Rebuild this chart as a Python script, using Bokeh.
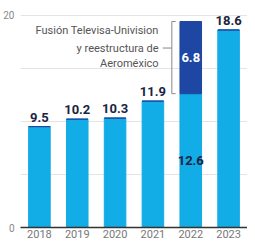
from bokeh.plotting import figure
from bokeh.models import ColumnDataSource, FixedTicker, Range1d, FactorRange
from bokeh.transform import dodge
from bokeh.core.properties import value
from bokeh.embed import file_html
from bokeh.resources import INLINE

years = ["2018", "2019", "2020", "2021", "2022", "2023"]
base_values = [9.5, 10.2, 10.3, 11.9, 12.6, 18.6]
extra_values = [0, 0, 0, 0, 6.8, 0]
top_labels = ["9.5", "10.2", "10.3", "11.9", "", "18.6"]
y_ticks = [0, 20]
grid_ticks = [5, 10, 15, 20]
note_lines = ["Fusión Televisa-Univision", "y reestructura de", "Aeroméxico"]

LIGHT = "#12ACE6"
DARK = "#1E47A3"
INK = "#1B2442"
FONT = "Roboto"

totals = [b + e for b, e in zip(base_values, extra_values)]

p = figure(x_range=FactorRange(*years, range_padding=0), y_range=Range1d(0, 21.0),
           width=247, height=240, output_backend="svg", toolbar_location=None,
           min_border_left=20, min_border_right=0, min_border_top=4, min_border_bottom=0)
p.outline_line_color = None
p.background_fill_color = "white"

src = ColumnDataSource(dict(x=years, base=base_values, extra=extra_values,
                            total=totals, lbl=top_labels))

p.vbar(x="x", top="base", bottom=0, width=0.57, color=LIGHT, source=src)
p.vbar(x="x", top="total", bottom="base", width=0.57, color=DARK, source=src)

p.text(x="x", y="total", text="lbl", source=src, text_align="center", text_baseline="bottom",
       y_offset=-5, text_font=value(FONT), text_font_style="bold", text_font_size="13px",
       text_color=INK)

# inner labels for the stacked 2022 bar
i = years.index("2022")
inner = ColumnDataSource(dict(x=[years[i]], yb=[base_values[i] / 2], ye=[base_values[i] + extra_values[i] / 2],
                              tb=[f"{base_values[i]}"], te=[f"{extra_values[i]}"]))
p.text(x="x", y="yb", text="tb", source=inner, text_align="center", text_baseline="middle",
       text_font=value(FONT), text_font_style="bold", text_font_size="13px", text_color=INK)
p.text(x="x", y="ye", text="te", source=inner, text_align="center", text_baseline="middle",
       text_font=value(FONT), text_font_style="bold", text_font_size="13px", text_color="white")

# bracket annotation
lo = base_values[i]
hi = totals[i]
note_y = 16.9
br = ColumnDataSource(dict(x=[years[i]], lo=[lo], hi=[hi], ny=[note_y]))
bx = dodge("x", -0.5, range=p.x_range)
p.segment(x0=bx, y0="lo", x1=bx, y1="hi", source=br, line_color="#888888", line_width=1)
p.segment(x0=bx, y0="hi", x1=dodge("x", -0.4, range=p.x_range), y1="hi", source=br,
          line_color="#888888", line_width=1)
p.segment(x0=bx, y0="lo", x1=dodge("x", -0.4, range=p.x_range), y1="lo", source=br,
          line_color="#888888", line_width=1)
p.segment(x0=dodge("x", -0.74, range=p.x_range), y0="ny", x1=bx, y1="ny", source=br,
          line_color="#888888", line_width=1)

note_src = ColumnDataSource(dict(x=[years[i]] * 3, y=[note_y + 1.65, note_y, note_y - 1.5], t=note_lines))
p.text(x=dodge("x", -0.85, range=p.x_range), y="y", text="t", source=note_src,
       text_align="right", text_baseline="middle", text_font=value("Roboto"),
       text_font_style="normal", text_font_size="11px", text_color="#555555")

p.xgrid.grid_line_color = None
p.ygrid.ticker = FixedTicker(ticks=grid_ticks)
p.ygrid.grid_line_color = "#e4e4e4"
p.ygrid.grid_line_width = 1

p.yaxis.ticker = FixedTicker(ticks=y_ticks)
p.yaxis.axis_line_color = None
p.yaxis.major_tick_line_color = None
p.yaxis.minor_tick_line_color = None
p.yaxis.major_tick_out = 0
p.yaxis.major_tick_in = 0
p.yaxis.major_label_text_color = "#888888"
p.yaxis.major_label_text_font = "Roboto"
p.yaxis.major_label_text_font_size = "10px"
p.yaxis.major_label_standoff = 6

p.xaxis.axis_line_color = "#333333"
p.xaxis.axis_line_width = 1.5
p.xaxis.major_tick_line_color = None
p.xaxis.minor_tick_line_color = None
p.xaxis.major_tick_out = 0
p.xaxis.major_tick_in = 0
p.xaxis.major_label_text_color = "#777777"
p.xaxis.major_label_text_font = "Roboto"
p.xaxis.major_label_text_font_size = "11px"
p.xaxis.major_label_standoff = 2

open("out.html", "w").write(file_html(p, INLINE))
